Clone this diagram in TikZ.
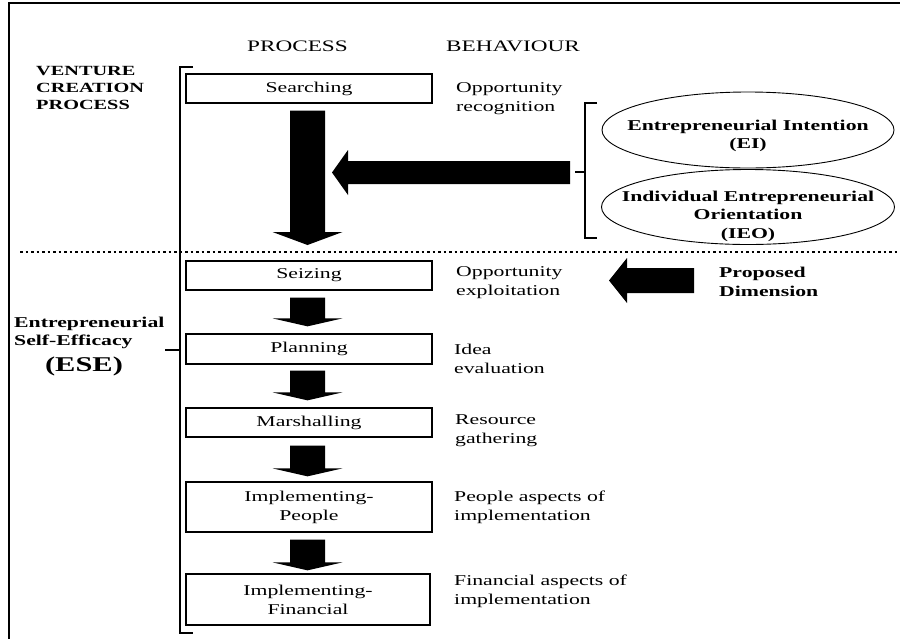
\documentclass[tikz,border=0pt]{standalone}
\usepackage{fontspec}
\setmainfont{Liberation Serif}[FakeStretch=1.45]
\usetikzlibrary{calc,shapes.geometric}

% block arrow pointing down: start, tip, shaft half width, head half width, head length
\newcommand\blkdown[5]{%
  \fill let \p1=(#1), \p2=(#2) in
    (\x1-#3,\y1) -- (\x1+#3,\y1) -- (\x1+#3,\y2+#5) -- (\x1+#4,\y2+#5) --
    (\x1,\y2) -- (\x1-#4,\y2+#5) -- (\x1-#3,\y2+#5) -- cycle;}
% block arrow pointing left: start, tip, shaft half width, head half width, head length
\newcommand\blkleft[5]{%
  \fill let \p1=(#1), \p2=(#2) in
    (\x1,\y1+#3) -- (\x1,\y1-#3) -- (\x2+#5,\y1-#3) -- (\x2+#5,\y2-#4) --
    (\x2,\y2) -- (\x2+#5,\y2+#4) -- (\x2+#5,\y1+#3) -- cycle;}

\begin{document}
\begin{tikzpicture}[x=1pt,y=-1pt,
  every node/.style={inner sep=0pt},
  txt/.style={font=\fontsize{15}{19}\selectfont, align=left, anchor=west},
  btxt/.style={font=\fontsize{15}{18.5}\selectfont\bfseries, align=left, anchor=west},
  head/.style={font=\fontsize{16}{19}\selectfont},
  stepbox/.style={draw, line width=1.3pt, minimum width=246pt,
    font=\fontsize{15}{19}\selectfont, align=center},
  oval/.style={draw, ellipse, line width=0.9pt},
  brk/.style={line width=1.6pt},
]
\useasboundingbox (0,0) rectangle (900,638);

% frame
\draw[line width=2.5pt] (9,650) -- (9,3) -- (910,3);

% column headings
\node[head] (hproc) at (297.5,46) {PROCESS};
\node[head] (hbeh) at (513,46) {BEHAVIOUR};

% left-hand labels
\node[font=\fontsize{14}{17}\selectfont\bfseries, align=left, anchor=west]
  (vcp) at (36,88) {VENTURE\\CREATION\\PROCESS};
\node[btxt] (ese) at (14,333) {Entrepreneurial\\Self-Efficacy};
\node[font=\fontsize{21}{24}\selectfont\bfseries] (esea) at (84,366) {(ESE)};

% process steps
\node[stepbox, minimum height=29pt] (search) at (309,88.5) {Searching};
\node[stepbox, minimum height=29pt] (seize) at (309,275.5) {Seizing};
\node[stepbox, minimum height=30pt] (plan) at (309,349) {Planning};
\node[stepbox, minimum height=29pt] (marsh) at (309,422.5) {Marshalling};
\node[stepbox, minimum height=50pt] (impp) at (309,507) {Implementing-\\People};
\node[stepbox, minimum height=51pt, minimum width=244pt] (impf) at (308,599.5) {Implementing-\\Financial};

% behaviours
\node[txt] (b1) at (456,98.5) {Opportunity\\recognition};
\node[txt] (b2) at (456,282.5) {Opportunity\\exploitation};
\node[txt] (b3) at (454,358.5) {Idea\\evaluation};
\node[txt] (b4) at (455,431) {Resource\\gathering};
\node[txt] (b5) at (454,507.5) {People aspects of\\implementation};
\node[txt] (b6) at (454,591.5) {Financial aspects of\\implementation};

% antecedents
\node[oval, minimum width=292pt, minimum height=76pt] (ei) at (748,130) {};
\node[btxt, anchor=center, align=center] (eit) at (748,136) {Entrepreneurial Intention\\(EI)};
\node[oval, minimum width=293pt, minimum height=75pt] (ieo) at (748,207) {};
\node[btxt, anchor=center, align=center] (ieot) at (748,216) {Individual Entrepreneurial\\Orientation\\(IEO)};
\node[btxt] (prop) at (719,282) {Proposed\\Dimension};

% brackets
\draw[brk] (193,67) -- (180,67) -- (180,633) -- (193,633);
\coordinate (lbk) at (180,350);
\draw[brk] (165,350) -- (lbk);
\draw[brk] (597,103) -- (585,103) -- (585,238) -- (597,238);
\coordinate (rbk) at (585,172);
\draw[brk] (575,172) -- (rbk);

% dotted divider
\draw[line width=2pt, dash pattern=on 2.5pt off 3pt] (20,252) -- (900,252);

% main flow arrows
\coordinate (a0s) at ($(search.south)+(-1.5,7)$);
\coordinate (a0t) at (307.5,245);
\blkdown{a0s}{a0t}{17.5pt}{35pt}{13pt}
\blkdown{$(seize.south)+(-1.5,7)$}{$(plan.north)+(-1.5,-7)$}{17.5pt}{35pt}{8pt}
\blkdown{$(plan.south)+(-1.5,6)$}{$(marsh.north)+(-1.5,-7)$}{17.5pt}{35pt}{8pt}
\blkdown{$(marsh.south)+(-1.5,8)$}{$(impp.north)+(-1.5,-5)$}{17.5pt}{35pt}{8pt}
\blkdown{$(impp.south)+(-1.5,7)$}{$(impf.north)+(-0.5,-3)$}{17.5pt}{35pt}{8pt}

% influence arrows
\coordinate (l1s) at (570,172.5);
\coordinate (l1t) at (332,172.5);
\blkleft{l1s}{l1t}{11.5pt}{22.5pt}{16pt}
\coordinate (l2s) at (694,280.5);
\coordinate (l2t) at (609,280.5);
\blkleft{l2s}{l2t}{12.5pt}{22.5pt}{18pt}
\end{tikzpicture}
\end{document}
